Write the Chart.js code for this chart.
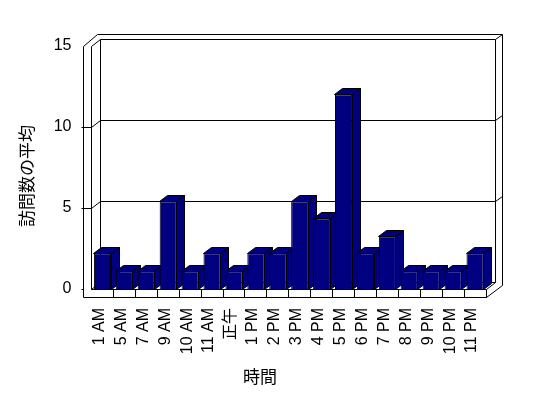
<!DOCTYPE html>
<html>
<head>
<meta charset="utf-8">
<script src="https://cdn.jsdelivr.net/npm/chart.js"></script>
<style>
  body { margin: 0; background: #fff; }
  canvas { display: block; }
</style>
</head>
<body>
<canvas id="chart" width="548" height="398"></canvas>
<script>
// データ
const hours = ['1 AM', '5 AM', '7 AM', '9 AM', '10 AM', '11 AM', '正午', '1 PM', '2 PM',
  '3 PM', '4 PM', '5 PM', '6 PM', '7 PM', '8 PM', '9 PM', '10 PM', '11 PM'];
const visits = [2.2, 1.1, 1.1, 5.4, 1.1, 2.2, 1.1, 2.2, 2.2, 5.4, 4.35, 12, 2.2, 3.25, 1.1, 1.1, 1.1, 2.2];
const yMin = 0;
const yMax = 15;
const yStep = 5;
const yTitle = '訪問数の平均';
const xTitle = '時間';

const navy = '#000080';
const depth = { x: 8, y: -6 };      // bar depth
const wall = { x: 9, y: -6.5 };     // front -> back wall
const shell = { x: 16, y: -12 };    // front -> outer frame
const thick = 8.5;                  // wall slab thickness

const px = v => Math.round(v - 0.5) + 0.5;

function poly(ctx, pts, fill) {
  ctx.beginPath();
  pts.forEach((p, i) => i ? ctx.lineTo(px(p[0]), px(p[1])) : ctx.moveTo(px(p[0]), px(p[1])));
  ctx.closePath();
  if (fill) { ctx.fillStyle = fill; ctx.fill(); }
  ctx.stroke();
}
function line(ctx, x1, y1, x2, y2) {
  ctx.beginPath();
  ctx.moveTo(px(x1), px(y1));
  ctx.lineTo(px(x2), px(y2));
  ctx.stroke();
}

// 3D の壁と棒の側面
const box3d = {
  id: 'box3d',
  beforeDatasetsDraw(chart) {
    const { ctx, chartArea: a, scales: { x, y } } = chart;
    const L = a.left, R = a.right;
    const T = y.getPixelForValue(yMax), B = y.getPixelForValue(yMin);
    ctx.save();
    ctx.lineWidth = 1;
    ctx.strokeStyle = '#000';

    // outer frame
    poly(ctx, [[L - thick, T], [L - thick + 14, T + shell.y], [R + shell.x, T + shell.y],
      [R + shell.x, B - 4], [R, B + thick], [L - thick, B + thick]], '#fff');
    // back wall
    poly(ctx, [[L + wall.x, T + wall.y], [R + wall.x, T + wall.y], [R + wall.x, B + wall.y], [L + wall.x, B + wall.y]]);
    line(ctx, L, T, L + wall.x, T + wall.y);
    line(ctx, R + wall.x, T + wall.y, R + shell.x, T + shell.y);
    line(ctx, L, T, L, B);
    line(ctx, L, B, L + wall.x, B + wall.y);
    line(ctx, R, B, R + wall.x, B + wall.y);
    line(ctx, L, B, R, B);
    line(ctx, R, B, R, B + thick);

    // gridlines
    for (let v = yMin + yStep; v < yMax; v += yStep) {
      const gy = y.getPixelForValue(v);
      line(ctx, L - thick - 2, gy, L, gy);
      line(ctx, L, gy, L + wall.x, gy + wall.y);
      line(ctx, L + wall.x, gy + wall.y, R + wall.x, gy + wall.y);
      line(ctx, R + wall.x, gy + wall.y, R + shell.x, gy + shell.y);
    }
    line(ctx, L - thick - 2, B, L - thick, B);

    // floor dividers
    for (let i = 1; i < hours.length; i++) {
      const dx = (x.getPixelForValue(i - 1) + x.getPixelForValue(i)) / 2;
      line(ctx, dx, B, dx, B + thick);
    }

    // bar side + top faces
    const meta = chart.getDatasetMeta(0);
    meta.data.forEach(el => {
      const l = el.x - el.width / 2, r = el.x + el.width / 2;
      poly(ctx, [[r, el.y], [r + depth.x, el.y + depth.y], [r + depth.x, el.base + depth.y], [r, el.base]], navy);
      poly(ctx, [[l, el.y], [l + depth.x, el.y + depth.y], [r + depth.x, el.y + depth.y], [r, el.y]], navy);
    });
    ctx.restore();
  },
  afterDraw(chart) {
    const { ctx } = chart;
    ctx.save();
    ctx.fillStyle = '#000';
    ctx.font = '17px "Noto Sans CJK JP"';
    ctx.textAlign = 'center';
    ctx.textBaseline = 'middle';
    ctx.fillText(xTitle, 260, 377);
    ctx.translate(27, 176);
    ctx.rotate(-Math.PI / 2);
    ctx.fillText(yTitle, 0, 0);
    ctx.restore();
  }
};

new Chart(document.getElementById('chart'), {
  type: 'bar',
  data: {
    labels: hours,
    datasets: [{
      data: visits,
      backgroundColor: navy,
      borderColor: '#000',
      borderWidth: 1,
      barPercentage: 0.78,
      categoryPercentage: 1
    }]
  },
  options: {
    responsive: false,
    animation: false,
    layout: { padding: { top: 46, right: 62, left: 0, bottom: 0 } },
    plugins: { legend: { display: false }, tooltip: { enabled: false } },
    scales: {
      x: {
        grid: { display: false, drawTicks: false },
        border: { display: false },
        ticks: {
          autoSkip: false, minRotation: 90, maxRotation: 90, padding: 19, labelOffset: -3,
          color: '#000', font: { family: '"Liberation Sans", "Noto Sans CJK JP"', size: 16 }
        },
        afterFit(s) { s.height = 109; }
      },
      y: {
        min: yMin, max: yMax,
        grid: { display: false, drawTicks: false },
        border: { display: false },
        ticks: {
          stepSize: yStep, padding: 20, color: '#000',
          font: { family: '"Liberation Sans"', size: 16 }
        },
        afterFit(s) { s.width = 91.5; }
      }
    }
  },
  plugins: [box3d]
});
</script>
</body>
</html>
